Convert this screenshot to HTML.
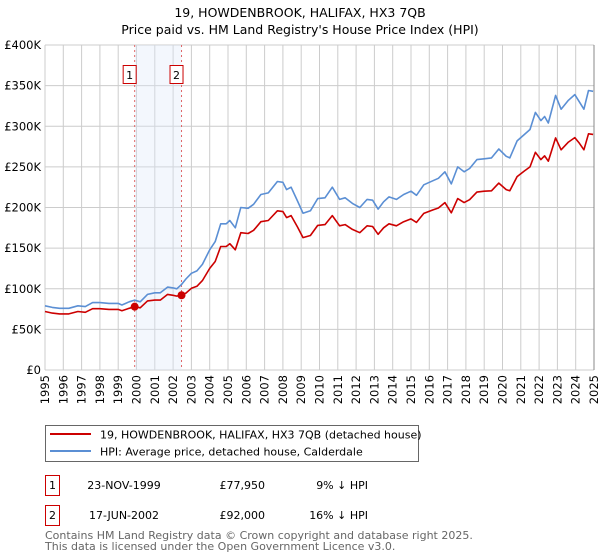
<!DOCTYPE html>
<html><head><meta charset="utf-8"><style>
body{margin:0;background:#fff;font-family:"DejaVu Sans","Liberation Sans",sans-serif;}
svg{display:block}
text{font-family:"DejaVu Sans","Liberation Sans",sans-serif;}
</style></head><body>
<svg id="chart" width="600" height="560" viewBox="0 0 600 560">
<text x="300" y="17" text-anchor="middle" font-size="12.5" fill="#000">19, HOWDENBROOK, HALIFAX, HX3 7QB</text>
<text x="300" y="34" text-anchor="middle" font-size="12.5" fill="#000">Price paid vs. HM Land Registry's House Price Index (HPI)</text>
<g id="grid"></g>
<g id="band"></g>
<g id="series"></g>
<g id="axes"></g>
<g>
<rect x="45.5" y="425.5" width="373" height="36" fill="#fff" stroke="#666"/>
<line x1="50" y1="434" x2="91" y2="434" stroke="#cc0000" stroke-width="2"/>
<text x="100" y="438.5" font-size="11">19, HOWDENBROOK, HALIFAX, HX3 7QB (detached house)</text>
<line x1="50" y1="451" x2="91" y2="451" stroke="#5b8fd4" stroke-width="2"/>
<text x="100" y="455.5" font-size="11">HPI: Average price, detached house, Calderdale</text>
</g>
<g>
<rect x="45.5" y="475.5" width="14" height="20" fill="#fff" stroke="#cc0000"/>
<text x="52.5" y="489" text-anchor="middle" font-size="11">1</text>
<text x="124" y="489" text-anchor="middle" font-size="11">23-NOV-1999</text>
<text x="265" y="489" text-anchor="end" font-size="11">£77,950</text>
<text x="368" y="489" text-anchor="end" font-size="11">9% ↓ HPI</text>
<rect x="45.5" y="505.5" width="14" height="20" fill="#fff" stroke="#cc0000"/>
<text x="52.5" y="519" text-anchor="middle" font-size="11">2</text>
<text x="124" y="519" text-anchor="middle" font-size="11">17-JUN-2002</text>
<text x="265" y="519" text-anchor="end" font-size="11">£92,000</text>
<text x="368" y="519" text-anchor="end" font-size="11">16% ↓ HPI</text>
</g>
<text x="45" y="539" font-size="11" fill="#666">Contains HM Land Registry data © Crown copyright and database right 2025.</text>
<text x="45" y="550" font-size="11" fill="#666">This data is licensed under the Open Government Licence v3.0.</text>
</svg>
<script>
const hpiYears=[1995.0,1995.4,1995.8,1996.3,1996.8,1997.2,1997.6,1998.0,1998.5,1999.0,1999.2,1999.6,1999.9,2000.2,2000.6,2001.0,2001.3,2001.7,2002.0,2002.2,2002.45,2002.7,2003.0,2003.3,2003.6,2004.0,2004.3,2004.6,2004.9,2005.1,2005.4,2005.7,2006.1,2006.4,2006.8,2007.2,2007.7,2008.0,2008.2,2008.45,2008.8,2009.1,2009.5,2009.9,2010.3,2010.7,2011.1,2011.4,2011.8,2012.2,2012.6,2012.9,2013.2,2013.5,2013.8,2014.2,2014.6,2015.0,2015.3,2015.7,2016.2,2016.5,2016.85,2017.2,2017.55,2017.9,2018.2,2018.6,2019.0,2019.4,2019.8,2020.2,2020.4,2020.8,2021.2,2021.5,2021.8,2022.1,2022.3,2022.5,2022.9,2023.2,2023.6,2023.95,2024.2,2024.45,2024.7,2024.95];
const hpiValues=[79,77,76,76,79,78,83,83,82,82,80,84,86,84,93,95,95,102,101,100,105,112,119,122,130,148,158,180,180,184,175,200,199,204,216,218,232,231,222,225,208,193,196,211,212,225,210,212,205,200,210,209,198,207,213,210,216,220,215,228,233,236,244,229,250,244,248,259,260,261,272,263,261,282,290,296,317,307,312,304,338,321,332,339,330,321,344,343];
const propYears=[1995.0,1995.4,1995.8,1996.3,1996.8,1997.2,1997.6,1998.0,1998.5,1999.0,1999.2,1999.6,1999.9,2000.2,2000.6,2001.0,2001.3,2001.7,2002.0,2002.2,2002.46,2002.7,2003.0,2003.3,2003.6,2004.0,2004.3,2004.6,2004.9,2005.1,2005.4,2005.7,2006.1,2006.4,2006.8,2007.2,2007.7,2008.0,2008.2,2008.45,2008.8,2009.1,2009.5,2009.9,2010.3,2010.7,2011.1,2011.4,2011.8,2012.2,2012.6,2012.9,2013.2,2013.5,2013.8,2014.2,2014.6,2015.0,2015.3,2015.7,2016.2,2016.5,2016.85,2017.2,2017.55,2017.9,2018.2,2018.6,2019.0,2019.4,2019.8,2020.2,2020.4,2020.8,2021.2,2021.5,2021.8,2022.1,2022.3,2022.5,2022.9,2023.2,2023.6,2023.95,2024.2,2024.45,2024.7,2024.95];
const propValues=[72,70,69,69,72,71,75.5,75.5,74.6,74.6,73,76,77.95,76.5,85,86,86,93,92,91,92,94.6,100.6,103,110,125,133.5,152,152,155.5,148,169,168,172,182.5,184,196,195,187.6,190,176,163,165.6,178,179,190,177.5,179,173,169,177.5,176.6,167,175,180,177.5,182.5,186,181.7,192.7,197,199.4,206,193.5,211,206,209.6,219,220,220.5,230,222,220.5,238,245,250,268,259,263.6,257,285.6,271,280.5,286,279,271,290.7,290];
const saleYears=[1999.9,2002.46];
const salePrices=[77.95,92];
const saleLabels=["1","2"];
const yTicks=[0,50,100,150,200,250,300,350,400];
const yTickLabels=["£0","£50K","£100K","£150K","£200K","£250K","£300K","£350K","£400K"];
const xTicks=[1995,1996,1997,1998,1999,2000,2001,2002,2003,2004,2005,2006,2007,2008,2009,2010,2011,2012,2013,2014,2015,2016,2017,2018,2019,2020,2021,2022,2023,2024,2025];

const L=45,R=594,T=45,B=370,X0=1995,X1=2025,YMAX=400;
const NS="http://www.w3.org/2000/svg";
function xs(v){return L+(v-X0)/(X1-X0)*(R-L);}
function ys(v){return B-v/YMAX*(B-T);}
function mk(tag,attrs,parent){const e=document.createElementNS(NS,tag);for(const k in attrs)e.setAttribute(k,attrs[k]);parent.appendChild(e);return e;}
const grid=document.getElementById('grid'),axes=document.getElementById('axes'),band=document.getElementById('band'),series=document.getElementById('series');
mk('rect',{x:L,y:T,width:R-L,height:B-T,fill:'#fff'},grid);
xTicks.forEach((t,i)=>{
  const g=mk('line',{x1:xs(t),y1:T,x2:xs(t),y2:B,stroke:'#cccccc','stroke-width':1},grid);
  
  
  const x=xs(t)+4,y=B+5;
  const tx=mk('text',{x:x,y:y,'text-anchor':'end','font-size':11.5,transform:'rotate(-90 '+x+' '+y+')'},axes);
  tx.textContent=t;
  
  
});
yTicks.forEach((t,i)=>{
  const g=mk('line',{x1:L,y1:ys(t),x2:R,y2:ys(t),stroke:'#cccccc','stroke-width':1},grid);
  
  
  const tx=mk('text',{x:L-4,y:ys(t)+4,'text-anchor':'end','font-size':11.5},axes);
  tx.textContent=yTickLabels[i];
  
  
});
const bd=mk('rect',{x:xs(saleYears[0]),y:T,width:xs(saleYears[1])-xs(saleYears[0]),height:B-T,fill:'#dde8fa','fill-opacity':0.35},band);


saleYears.forEach((s,i)=>{
  const l=mk('line',{x1:xs(s),y1:T,x2:xs(s),y2:B,stroke:'#e06666','stroke-width':1,'stroke-dasharray':'2,3'},band);
  
  
  const r=mk('rect',{x:xs(s)-11.5,y:65.5,width:13,height:18,fill:'#fff',stroke:'#cc0000'},band);
  
  
  const t=mk('text',{x:xs(s)-5,y:79,'text-anchor':'middle','font-size':11},band);
  t.textContent=saleLabels[i];
  
  
});
function path(xa,va){return xa.map((x,i)=>(i?'L':'M')+xs(x).toFixed(1)+','+ys(va[i]).toFixed(1)).join('');}
const hp=mk('path',{d:path(hpiYears,hpiValues),fill:'none',stroke:'#5b8fd4','stroke-width':1.6,'stroke-linejoin':'round'},series);


const pp=mk('path',{d:path(propYears,propValues),fill:'none',stroke:'#cc0000','stroke-width':1.6,'stroke-linejoin':'round'},series);


saleYears.forEach((s,i)=>{
  const c=mk('circle',{cx:xs(s),cy:ys(salePrices[i]),r:4,fill:'#cc0000'},series);
  
  
});
const fr=mk('line',{x1:R,y1:T,x2:R,y2:B,stroke:'#888','stroke-width':1},axes);


</script>
</body></html>
